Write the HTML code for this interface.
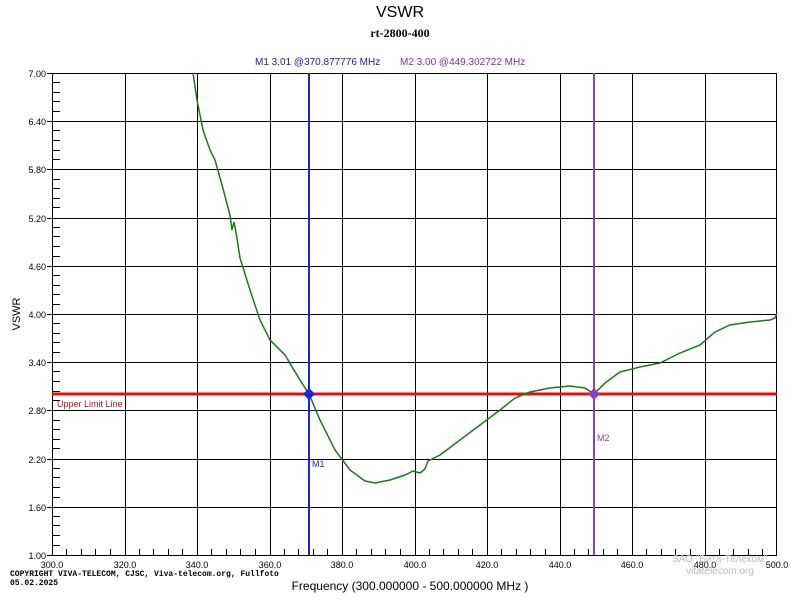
<!DOCTYPE html>
<html><head><meta charset="utf-8"><style>body{margin:0;background:#fff}svg{display:block}</style></head><body>
<svg width="800" height="600" xmlns="http://www.w3.org/2000/svg" font-family="Liberation Sans, sans-serif">
<rect width="800" height="600" fill="#fff"/>
<text x="400" y="17" font-size="16" text-anchor="middle">VSWR</text>
<text x="400" y="37" font-size="12" font-weight="bold" text-anchor="middle" font-family="Liberation Serif, serif">rt-2800-400</text>
<text x="255" y="65" font-size="10" fill="#1a1aa0">M1  3.01 @370.877776 MHz</text>
<text x="400" y="65" font-size="10" fill="#8030b0">M2  3.00 @449.302722 MHz</text>
<g stroke="#000" stroke-width="1" fill="none">
<rect x="52.5" y="73.5" width="724" height="482"/>
<path d="M125.5 73V555M197.5 73V555M270.5 73V555M342.5 73V555M415.5 73V555M487.5 73V555M560.5 73V555M632.5 73V555M705.5 73V555"/>
<path d="M52 121.5H777M52 169.5H777M52 218.5H777M52 266.5H777M52 314.5H777M52 362.5H777M52 410.5H777M52 459.5H777M52 507.5H777"/>
<path d="M47 73.5H52M47 121.5H52M47 169.5H52M47 218.5H52M47 266.5H52M47 314.5H52M47 362.5H52M47 410.5H52M47 459.5H52M47 507.5H52M47 555.5H52"/>
<path d="M66.5 549V555M81.5 549V555M95.5 549V555M110.5 549V555M139.5 549V555M153.5 549V555M168.5 549V555M182.5 549V555M211.5 549V555M226.5 549V555M240.5 549V555M255.5 549V555M284.5 549V555M298.5 549V555M313.5 549V555M327.5 549V555M356.5 549V555M371.5 549V555M385.5 549V555M400.5 549V555M429.5 549V555M443.5 549V555M458.5 549V555M472.5 549V555M501.5 549V555M516.5 549V555M530.5 549V555M545.5 549V555M574.5 549V555M588.5 549V555M603.5 549V555M617.5 549V555M646.5 549V555M661.5 549V555M675.5 549V555M690.5 549V555M719.5 549V555M733.5 549V555M748.5 549V555M762.5 549V555"/>
<path d="M52 82.5H60M52 92.5H60M52 101.5H60M52 111.5H60M52 130.5H60M52 140.5H60M52 150.5H60M52 159.5H60M52 179.5H60M52 188.5H60M52 198.5H60M52 207.5H60M52 227.5H60M52 236.5H60M52 246.5H60M52 256.5H60M52 275.5H60M52 285.5H60M52 294.5H60M52 304.5H60M52 323.5H60M52 333.5H60M52 342.5H60M52 352.5H60M52 371.5H60M52 381.5H60M52 391.5H60M52 400.5H60M52 420.5H60M52 429.5H60M52 439.5H60M52 448.5H60M52 468.5H60M52 477.5H60M52 487.5H60M52 497.5H60M52 516.5H60M52 525.5H60M52 535.5H60M52 545.5H60"/>
</g>
<g font-size="9" text-anchor="end">
<text x="46" y="77">7.00</text><text x="46" y="125">6.40</text><text x="46" y="173">5.80</text><text x="46" y="222">5.20</text><text x="46" y="270">4.60</text><text x="46" y="318">4.00</text><text x="46" y="366">3.40</text><text x="46" y="414">2.80</text><text x="46" y="463">2.20</text><text x="46" y="511">1.60</text><text x="46" y="559">1.00</text>
</g>
<g font-size="9" text-anchor="middle">
<text x="52" y="568">300.0</text><text x="125" y="568">320.0</text><text x="197" y="568">340.0</text><text x="270" y="568">360.0</text><text x="342" y="568">380.0</text><text x="415" y="568">400.0</text><text x="487" y="568">420.0</text><text x="560" y="568">440.0</text><text x="632" y="568">460.0</text><text x="705" y="568">480.0</text><text x="777" y="568">500.0</text>
</g>
<text x="20" y="314" font-size="11" transform="rotate(-90 20 314)" text-anchor="middle">VSWR</text>
<text x="410" y="590" font-size="12" text-anchor="middle">Frequency (300.000000 - 500.000000 MHz )</text>
<text x="10" y="576" font-size="8" font-family="Liberation Mono, monospace" font-weight="bold">COPYRIGHT VIVA-TELECOM, CJSC, Viva-telecom.org, Fullfoto</text>
<text x="10" y="585" font-size="8" font-family="Liberation Mono, monospace" font-weight="bold">05.02.2025</text>
<text x="720" y="562" font-size="10" fill="#bbb" text-anchor="middle">ЗАО "Вита-Телеком"</text>
<text x="720" y="574" font-size="10" fill="#bbb" text-anchor="middle">vitatelecom.org</text>
<line x1="52" y1="394" x2="777" y2="394" stroke="#e01010" stroke-width="3"/>
<text x="57" y="407" font-size="9" fill="#c01010">Upper Limit Line</text>
<line x1="309" y1="73" x2="309" y2="555" stroke="#1a28d0" stroke-width="2"/>
<line x1="594" y1="73" x2="594" y2="555" stroke="#8a40c0" stroke-width="2"/>
<polyline fill="none" stroke="#1a7a1a" stroke-width="1.5" points="193,73 197,100 203,130 210,150 215,160 222,185 230,215 232,230 234,222 236,232 240,258 250,290 260,320 270,340 285,355 300,380 309,394 320,420 335,450 350,470 365,481 375,483 390,480 405,475 413,471 420,473 425,469 428,461 440,455 460,440 480,425 500,410 515,398 530,392 550,388 570,386 585,388 594,394 605,383 620,372 640,367 660,363 680,353 700,345 715,332 730,325 750,322 770,320 775,318 777,313"/>
<polygon points="309,388 315,394 309,400 303,394" fill="#1a28d0"/>
<polygon points="594,388 600,394 594,400 588,394" fill="#8a40c0"/>
<text x="312" y="467" font-size="9" fill="#1a28d0">M1</text>
<text x="597" y="441" font-size="9" fill="#8a40c0">M2</text>
</svg>
</body></html>
